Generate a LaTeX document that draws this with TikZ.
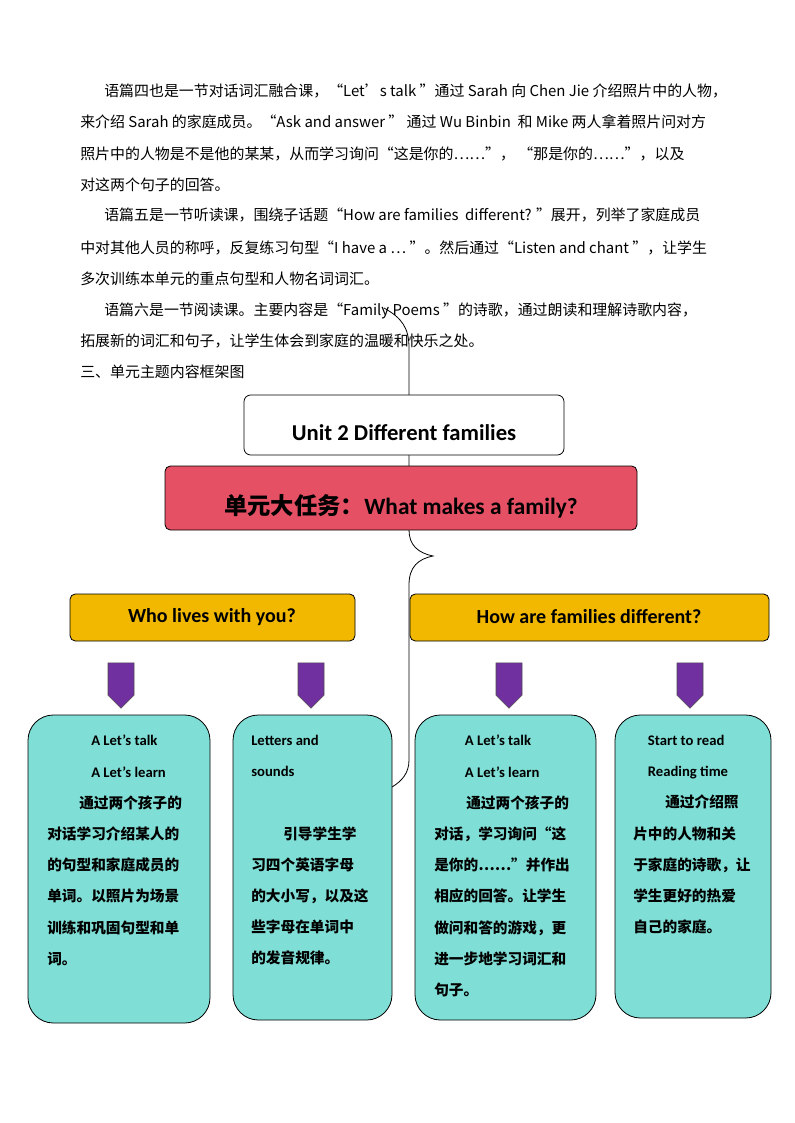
\documentclass[tikz,border=0pt]{standalone}
\usepackage{fontspec}
\setmainfont{Liberation Serif}
\newfontfamily\cjk{Noto Sans CJK SC}
\newfontfamily\cali{Carlito}
\usetikzlibrary{shapes.arrows}
\definecolor{redtask}{HTML}{E55064}
\definecolor{yellowq}{HTML}{F2B800}
\definecolor{cyanbox}{HTML}{7FDED5}
\definecolor{purplearr}{HTML}{7030A0}
\tikzset{
 para/.style={anchor=base west,inner sep=0pt,font=\cjk\fontsize{11.2}{14}\selectfont},
 lessonbox/.style={draw,fill=cyanbox,rounded corners=19pt,line width=0.6pt},
 qbox/.style={draw,fill=yellowq,rounded corners=4pt,line width=0.6pt},
 boxtext/.style={anchor=north west,inner sep=0pt,align=left,font=\cjk\bfseries\fontsize{11}{23.4}\selectfont},
 downarrow/.style={draw=black!70,fill=purplearr,single arrow,shape border rotate=270,minimum width=19.5pt,single arrow head extend=0pt,minimum height=34pt,single arrow tip angle=90,inner sep=0pt,line width=0.4pt}
}
\begin{document}
\begin{tikzpicture}[x=0.75pt,y=-0.75pt]
 \useasboundingbox[fill=white] (0,0) rectangle (794,1123);
 % paragraphs
 \node[para] (p1) at (104,97) {语篇四也是一节对话词汇融合课，“Let’s talk ”通过 Sarah 向 Chen Jie 介绍照片中的人物，};
 \node[para] (p2) at (80,128) {来介绍 Sarah 的家庭成员。“Ask and answer ” 通过 Wu Binbin\ \ 和 Mike 两人拿着照片问对方};
 \node[para] (p3) at (80,160) {照片中的人物是不是他的某某，从而学习询问“这是你的……”，\ “那是你的……”，以及};
 \node[para] (p4) at (80,191) {对这两个句子的回答。};
 \node[para] (p5) at (104,221) {语篇五是一节听读课，围绕子话题“How are families\ \ different? ”展开，列举了家庭成员};
 \node[para] (p6) at (80,253) {中对其他人员的称呼，反复练习句型“I have a … ”。然后通过“Listen\ and chant ”，让学生};
 \node[para] (p7) at (80,284) {多次训练本单元的重点句型和人物名词词汇。};
 \node[para] (p8) at (104,315) {语篇六是一节阅读课。主要内容是“Family\ Poems ”的诗歌，通过朗读和理解诗歌内容，};
 \node[para] (p9) at (80,346) {拓展新的词汇和句子，让学生体会到家庭的温暖和快乐之处。};
 \node[para] (p10) at (80,377) {三、单元主题内容框架图};

 % brace
 \draw[line width=0.6pt] (384,308) .. controls (402,318) and (409,328) .. (409,348)
   -- (409,530) .. controls (409,545) and (418,553) .. (433,556)
   .. controls (418,559) and (409,567) .. (409,585)
   -- (409,760) .. controls (409,773) and (402,781) .. (392,787);

 % title boxes
 \draw[fill=white,rounded corners=5pt,line width=0.6pt] (244,395) rectangle (564,455);
 \node[font=\cali\bfseries\fontsize{17}{20}\selectfont] (unit) at (404,433) {Unit 2 Different families};
 \draw[fill=redtask,rounded corners=4pt,line width=0.6pt] (165,466) rectangle (637,530);
 \node[font=\cjk\bfseries\fontsize{17.5}{20}\selectfont] (task) at (401,506) {单元大任务：{\cali What makes a family?}};

 % question boxes
 \draw[qbox] (70,594) rectangle (355,641);
 \node[font=\cali\bfseries\fontsize{15}{18}\selectfont] (qa) at (212,617) {Who lives with you?};
 \draw[qbox] (410,594) rectangle (769,641);
 \node[font=\cali\bfseries\fontsize{15}{18}\selectfont] (qb) at (589,617) {How are families different?};

 % arrows
 \foreach \ax/\nm in {121/a1,311/a2,509/a3,690/a4}
   \node[downarrow] (\nm) at (\ax,679) {};

 % lesson boxes
 \draw[lessonbox] (28,715) rectangle (210,1023);
 \draw[lessonbox] (233,715) rectangle (392,1020);
 \draw[lessonbox] (415,715) rectangle (596,1020);
 \draw[lessonbox] (615,715) rectangle (771,1018);

 \node[boxtext] (t1) at (47,735) {\hspace*{33pt}{\cali A Let’s talk}\\
  \hspace*{33pt}{\cali A Let’s learn}\\
  \hspace*{24pt}通过两个孩子的\\对话学习介绍某人的\\的句型和家庭成员的\\单词。以照片为场景\\训练和巩固句型和单\\词。};
 \node[boxtext] (t2) at (251,735) {{\cali Letters and}\\{\cali sounds}\\ \\
  \hspace*{24pt}引导学生学\\习四个英语字母\\的大小写，以及这\\些字母在单词中\\的发音规律。};
 \node[boxtext] (t3) at (434,735) {\hspace*{23pt}{\cali A Let’s talk}\\
  \hspace*{23pt}{\cali A Let’s learn}\\
  \hspace*{24pt}通过两个孩子的\\对话，学习询问“这\\是你的……”并作出\\相应的回答。让学生\\做问和答的游戏，更\\进一步地学习词汇和\\句子。};
 \node[boxtext] (t4) at (633,735) {\hspace*{11pt}{\cali Start to read}\\
  \hspace*{11pt}{\cali Reading time}\\
  \hspace*{24pt}通过介绍照\\片中的人物和关\\于家庭的诗歌，让\\学生更好的热爱\\自己的家庭。};
\end{tikzpicture}
\end{document}
